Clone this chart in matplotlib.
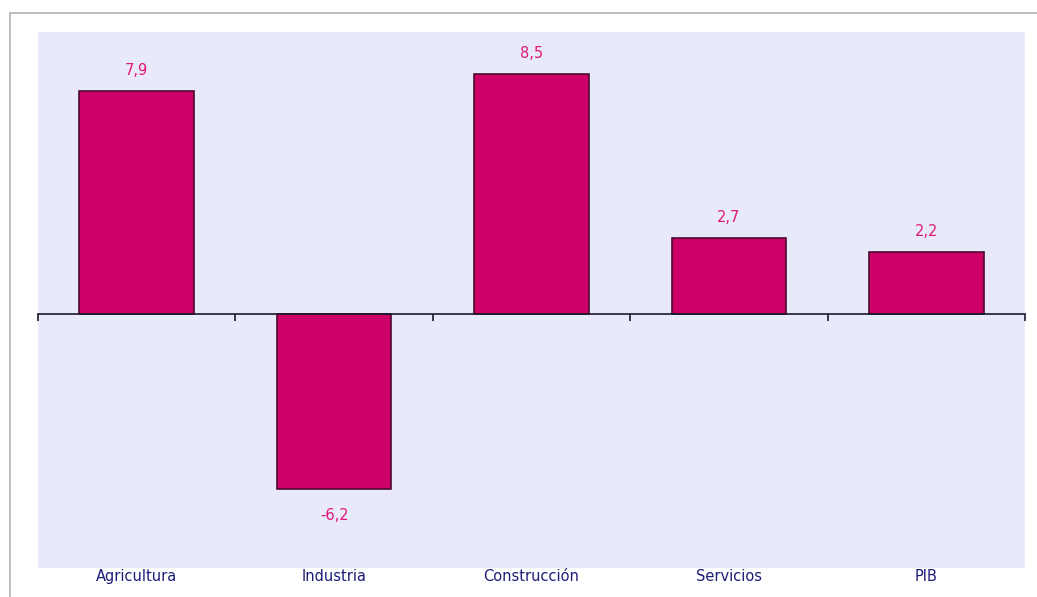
import matplotlib.pyplot as plt
from matplotlib.patches import Rectangle
import matplotlib.transforms as mtransforms
import numpy as np

# data
categories = ['Agricultura', 'Industria', 'Construcción', 'Servicios', 'PIB']
values = [7.9, -6.2, 8.5, 2.7, 2.2]
value_labels = ['7,9', '-6,2', '8,5', '2,7', '2,2']

bar_color = '#CC0066'
edge_color = '#4A0A30'
bg_color = '#E8EAF9'
label_color = '#E0187A'
cat_color = '#1C1C78'

W, H = 1037, 597
fig = plt.figure(figsize=(W / 100, H / 100), dpi=100)
fig.patch.set_facecolor('white')

# outer grey frame (top and left edges visible)
fig.add_artist(Rectangle((10 / W, -0.1), 1.2, (H - 13) / H + 0.1,
                         transform=fig.transFigure, facecolor='none',
                         edgecolor='#B4B4B4', linewidth=1.2))

ax = fig.add_axes([38 / W, (H - 568) / H, (1025 - 38) / W, (568 - 32) / H])
ax.set_facecolor(bg_color)

x = np.arange(len(categories))
bars = ax.bar(x, values, width=0.58, color=bar_color, edgecolor=edge_color, linewidth=1.2, zorder=3)

ax.set_xlim(-0.5, len(categories) - 0.5)
ax.set_ylim(-9, 10)

for s in ['top', 'right', 'left']:
    ax.spines[s].set_visible(False)
ax.spines['bottom'].set_position(('data', 0))
ax.spines['bottom'].set_color('#1a1a2a')
ax.spines['bottom'].set_linewidth(1.2)
ax.spines['bottom'].set_zorder(4)

ax.set_yticks([])
ax.set_xticks(np.arange(-0.5, len(categories), 1.0))
ax.set_xticklabels([])
ax.tick_params(axis='x', direction='out', length=5, width=1.2, color='#1a1a2a')

# value labels
for xi, v, lab in zip(x, values, value_labels):
    if v >= 0:
        ax.annotate(lab, (xi, v), xytext=(0, 15), textcoords='offset points',
                    ha='center', va='center', fontsize=10.5, color=label_color)
    else:
        ax.annotate(lab, (xi, v), xytext=(0, -19), textcoords='offset points',
                    ha='center', va='center', fontsize=10.5, color=label_color)

# category labels below plot area
trans = mtransforms.blended_transform_factory(ax.transData, ax.transAxes)
for xi, c in zip(x, categories):
    ax.text(xi, -0.016, c, transform=trans, ha='center', va='center',
            fontsize=10.5, color=cat_color)

plt.savefig('out.png', dpi=100)
